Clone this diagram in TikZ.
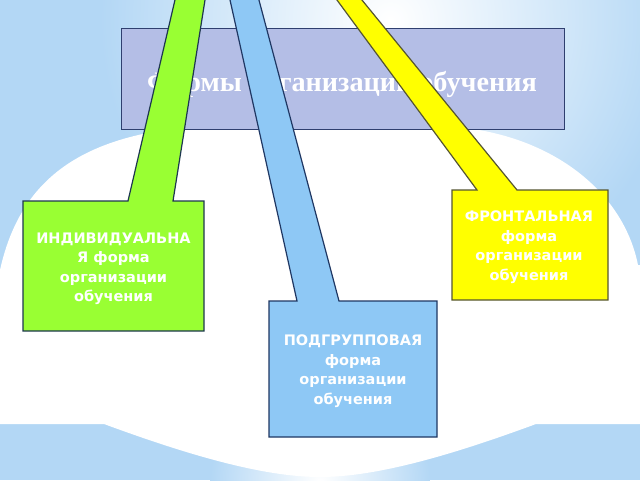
\documentclass[tikz,border=0pt]{standalone}
\usepackage{fontspec}
\newfontfamily\titlefont{Liberation Serif}
\newfontfamily\boxfont{DejaVu Sans}
\definecolor{bgblue}{RGB}{179,215,245}
\definecolor{titlefill}{RGB}{180,190,230}
\definecolor{titleline}{RGB}{47,63,111}
\definecolor{greenfill}{RGB}{153,255,51}
\definecolor{greenline}{RGB}{30,55,80}
\definecolor{bluefill}{RGB}{142,200,245}
\definecolor{blueline}{RGB}{31,55,99}
\definecolor{yellowfill}{RGB}{255,255,0}
\definecolor{yellowline}{RGB}{85,85,50}
\begin{document}
\begin{tikzpicture}[x=1pt,y=-1pt,
  callout/.style={line width=1.2pt, line join=miter},
  boxtext/.style={align=center, text=white, inner sep=0pt,
    font=\boxfont\bfseries\fontsize{14.5}{19.5}\selectfont},
  titletext/.style={text=white, inner sep=0pt,
    font=\titlefont\bfseries\fontsize{28.2}{32}\selectfont}]
\useasboundingbox (0,0) rectangle (640,480);
\clip (0,0) rectangle (640,480);
% background
\fill[bgblue] (0,0) rectangle (640,480);
\shade[inner color=white, outer color=bgblue] (390,20) circle (290);
\shade[inner color=white, outer color=bgblue] (320,482) circle (110);
% white region
\fill[white] (0,270) .. controls (20,180) and (80,135) .. (200,126)
  .. controls (260,121) and (377,121) .. (437,126)
  .. controls (540,128) and (622,185) .. (638,265)
  -- (640,265) -- (640,424) -- (536,424)
  .. controls (460,452) and (380,477) .. (320,477)
  .. controls (260,477) and (180,452) .. (104,424)
  -- (0,424) -- cycle;
% title
\node[draw=titleline, fill=titlefill, line width=1pt, minimum width=443pt,
  minimum height=101pt, inner sep=0pt] (title) at (342.5,78.5) {};
\node[titletext, anchor=base] (titlelabel) at (342,91) {Формы организации обучения};
% green callout
\draw[callout, draw=greenline, fill=greenfill] (23,201) -- (128,201) -- (177.3,-10)
  -- (206.6,-10) -- (173,201) -- (204,201) -- (204,331) -- (23,331) -- cycle;
\coordinate (greencenter) at (113.5,268.7);
\node[boxtext] (greenlabel) at (greencenter) {ИНДИВИДУАЛЬНА\\Я форма\\организации\\обучения};
% blue callout
\draw[callout, draw=blueline, fill=bluefill] (269,301) -- (297,301) -- (227.8,-10)
  -- (256.3,-10) -- (339,301) -- (437,301) -- (437,437) -- (269,437) -- cycle;
\coordinate (bluecenter) at (353,371.4);
\node[boxtext] (bluelabel) at (bluecenter) {ПОДГРУППОВАЯ\\форма\\организации\\обучения};
% yellow callout
\draw[callout, draw=yellowline, fill=yellowfill] (452,190) -- (477,190) -- (329.6,-10)
  -- (353.8,-10) -- (517,190) -- (608,190) -- (608,300) -- (452,300) -- cycle;
\coordinate (yellowcenter) at (529,247.4);
\node[boxtext] (yellowlabel) at (yellowcenter) {ФРОНТАЛЬНАЯ\\форма\\организации\\обучения};
\end{tikzpicture}
\end{document}
